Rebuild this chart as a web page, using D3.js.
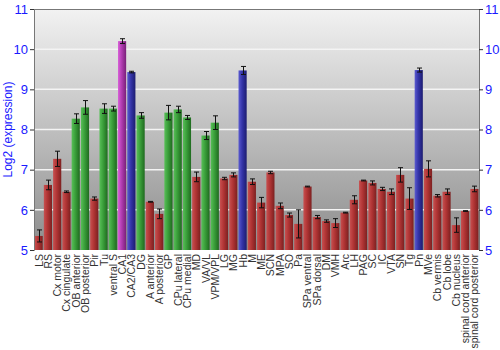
<!DOCTYPE html>
<html>
<head>
<meta charset="utf-8">
<script src="https://cdn.jsdelivr.net/npm/d3@7"></script>
<style>
  body { margin: 0; background: #fff; }
  svg { display: block; font-family: "Liberation Sans", Arial, sans-serif; }
</style>
</head>
<body>
<script>
// regions, in order
const regions = ["LS", "RS", "Cx motor", "Cx cingulate", "OB anterior", "OB posterior", "Pir", "Tu",
  "ventral S", "CA1", "CA2/CA3", "DG", "A anterior", "A posterior", "GP", "CPu lateral", "CPu medial",
  "MD", "VA/VL", "VPM/VPL", "LG", "MG", "Hb", "M", "ME", "SCN", "MPA", "SO", "Pa", "SPa ventral",
  "SPa dorsal", "DM", "VMH", "Arc", "LH", "PAG", "SC", "IC", "VTA", "SN", "Tg", "Pn", "MVe",
  "Cb vermis", "Cb lobe", "Cb nucleus", "spinal cord anterior", "spinal cord posterior"];

const expression = [5.35, 6.62, 7.27, 6.45, 8.27, 8.55, 6.28, 8.52, 8.52, 10.2, 9.43, 8.35, 6.2, 5.9,
  8.42, 8.5, 8.3, 6.82, 7.85, 8.17, 6.78, 6.87, 9.47, 6.7, 6.18, 6.93, 6.1, 5.87, 5.65, 6.58,
  5.82, 5.72, 5.67, 5.93, 6.25, 6.73, 6.67, 6.52, 6.45, 6.87, 6.28, 9.48, 7.02, 6.35, 6.45,
  5.62, 5.97, 6.52];

const errors = [0.15, 0.12, 0.19, 0.02, 0.12, 0.17, 0.04, 0.12, 0.06, 0.06, 0.02, 0.07, 0.01, 0.12,
  0.18, 0.08, 0.05, 0.12, 0.1, 0.17, 0.03, 0.05, 0.1, 0.07, 0.13, 0.03, 0.07, 0.05, 0.35, 0.01,
  0.04, 0.03, 0.11, 0.01, 0.1, 0.01, 0.05, 0.04, 0.07, 0.18, 0.27, 0.05, 0.2, 0.03, 0.07,
  0.18, 0.01, 0.07];

// colour group per region
const groups = ["r", "r", "r", "r", "g", "g", "r", "g", "g", "p", "b", "g", "r", "r", "g", "g", "g",
  "r", "g", "g", "r", "r", "b", "r", "r", "r", "r", "r", "r", "r", "r", "r", "r", "r", "r", "r",
  "r", "r", "r", "r", "r", "b", "r", "r", "r", "r", "r", "r"];

const yTicks = [5, 6, 7, 8, 9, 10, 11];

const width = 500, height = 350;
const margin = {top: 9, right: 21, bottom: 100, left: 34};
const iw = width - margin.left - margin.right;
const ih = height - margin.top - margin.bottom;

const palette = {
  r: ["#c85050", "#b03434", "#7c2020"],
  g: ["#58c058", "#3a9e3a", "#1f6a1f"],
  p: ["#d860d8", "#b03cb0", "#782078"],
  b: ["#5a5ad0", "#3434a8", "#1c1c70"]
};

const svg = d3.select("body").append("svg")
  .attr("width", width)
  .attr("height", height);

const defs = svg.append("defs");
const bg = defs.append("linearGradient").attr("id", "bg")
  .attr("x1", 0).attr("y1", 0).attr("x2", 0).attr("y2", 1);
bg.append("stop").attr("offset", "0%").attr("stop-color", "#f2f2f2");
bg.append("stop").attr("offset", "100%").attr("stop-color", "#8c8c8c");

Object.keys(palette).forEach(function(k) {
  const gr = defs.append("linearGradient").attr("id", "bar-" + k)
    .attr("x1", 0).attr("y1", 0).attr("x2", 1).attr("y2", 0);
  gr.append("stop").attr("offset", "0%").attr("stop-color", palette[k][0]);
  gr.append("stop").attr("offset", "45%").attr("stop-color", palette[k][1]);
  gr.append("stop").attr("offset", "100%").attr("stop-color", palette[k][2]);
});

const g = svg.append("g")
  .attr("transform", "translate(" + margin.left + "," + margin.top + ")");

const x = d3.scaleBand().domain(regions).range([0, iw]).paddingInner(0.12).paddingOuter(0.06);
const y = d3.scaleLinear().domain([5, 11]).range([ih, 0]);

g.append("rect")
  .attr("width", iw).attr("height", ih)
  .attr("fill", "url(#bg)");

g.append("g")
  .selectAll("line")
  .data(yTicks.slice(1, -1))
  .enter().append("line")
  .attr("x1", 0).attr("x2", iw)
  .attr("y1", d => y(d)).attr("y2", d => y(d))
  .attr("stroke", "#f4f4f4")
  .attr("stroke-width", 1.5);

const data = regions.map(function(r, i) {
  return {name: r, v: expression[i], e: errors[i], grp: groups[i]};
});

g.append("g")
  .selectAll("rect")
  .data(data)
  .enter().append("rect")
  .attr("x", d => x(d.name))
  .attr("y", d => y(d.v))
  .attr("width", x.bandwidth())
  .attr("height", d => ih - y(d.v))
  .attr("fill", d => "url(#bar-" + d.grp + ")");

const err = g.append("g")
  .attr("stroke", "#111")
  .attr("stroke-width", 1);

data.forEach(function(d) {
  const cx = Math.round(x(d.name) + x.bandwidth() / 2) + 0.5;
  err.append("line").attr("x1", cx).attr("x2", cx)
    .attr("y1", y(d.v - d.e)).attr("y2", y(d.v + d.e));
  [d.v - d.e, d.v + d.e].forEach(function(t) {
    err.append("line").attr("x1", cx - 2.5).attr("x2", cx + 2.5)
      .attr("y1", y(t)).attr("y2", y(t));
  });
});

// axes
const left = g.append("g")
  .call(d3.axisLeft(y).tickValues(yTicks).tickSize(4).tickPadding(2).tickFormat(d3.format("d")));
const right = g.append("g")
  .attr("transform", "translate(" + iw + ",0)")
  .call(d3.axisRight(y).tickValues(yTicks).tickSize(4).tickPadding(2).tickFormat(d3.format("d")));

[left, right].forEach(function(a) {
  a.select(".domain").attr("stroke", "#777");
  a.selectAll(".tick line").attr("stroke", "#333");
  a.selectAll(".tick text")
    .attr("fill", "#1a1aff")
    .attr("font-size", 13)
    .attr("font-family", "Liberation Sans, Arial, sans-serif");
});

g.append("line")
  .attr("x1", 0).attr("x2", iw).attr("y1", 0.5).attr("y2", 0.5)
  .attr("stroke", "#777");

// x labels
g.append("g")
  .selectAll("text")
  .data(regions)
  .enter().append("text")
  .attr("transform", d => "translate(" + (x(d) + x.bandwidth() / 2 + 4) + "," + (ih + 4) + ") rotate(-90)")
  .attr("text-anchor", "end")
  .attr("font-size", 10.5)
  .attr("fill", "#333")
  .text(d => d);

svg.append("text")
  .attr("transform", "translate(12," + (margin.top + ih / 2) + ") rotate(-90)")
  .attr("text-anchor", "middle")
  .attr("font-size", 12)
  .attr("fill", "#1a1aff")
  .text("Log2 (expression)");
</script>
</body>
</html>
